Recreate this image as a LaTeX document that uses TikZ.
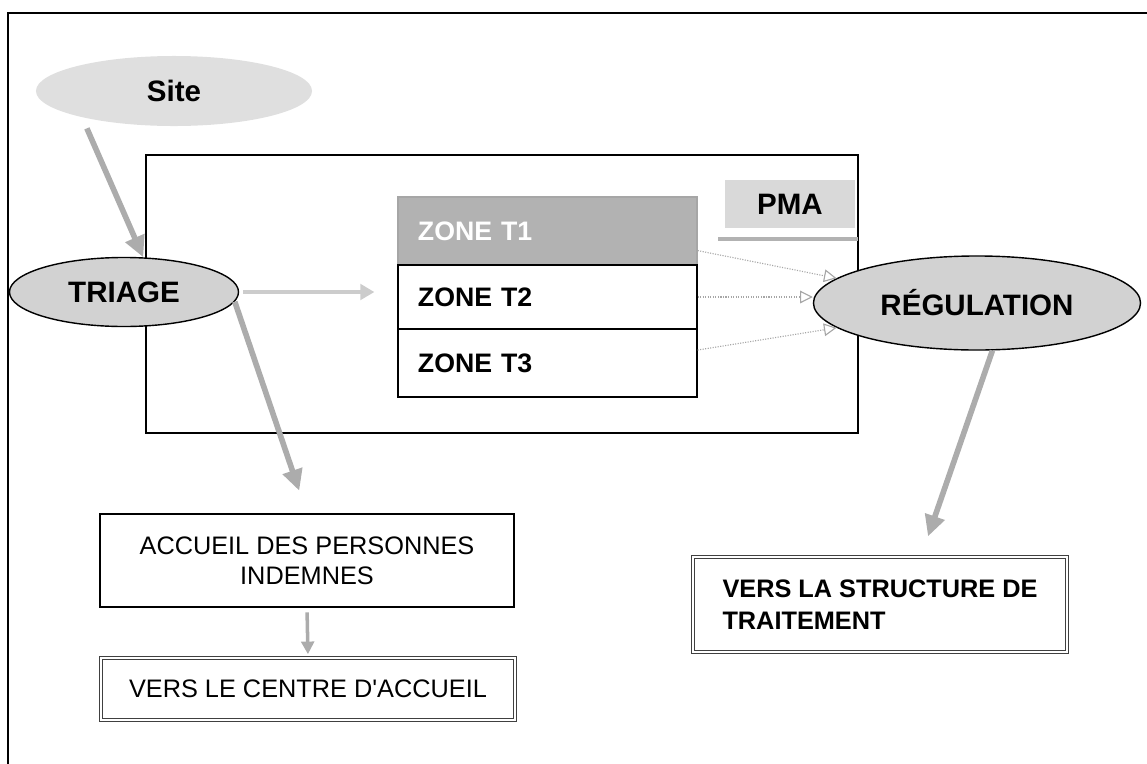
\documentclass[tikz,border=0pt]{standalone}
\usepackage{fontspec}
\setmainfont{Liberation Sans}
\usetikzlibrary{shapes.geometric, arrows.meta, calc, positioning}

\begin{document}
\begin{tikzpicture}[x=0.025cm, y=-0.025cm,
  oval/.style={ellipse, inner sep=0pt, font=\fontsize{21}{25}\selectfont\bfseries},
  zone/.style={rectangle, draw, line width=0.8pt, minimum width=7.475cm, text width=6.475cm, inner xsep=0.5cm, align=left, font=\fontsize{19}{23}\selectfont\bfseries},
  box/.style={rectangle, draw, line width=0.8pt, fill=white, font=\fontsize{18}{21.5}\selectfont},
  dbox/.style={box, draw=black!75, double=white, double distance=1.5pt},
  bigarrow/.style={draw=gray!65, line width=4pt, -{Triangle[length=15pt, width=14pt]}},
  smallarrow/.style={draw=gray!65, line width=2.5pt, -{Triangle[length=9pt, width=9pt]}},
  flatarrow/.style={draw=gray!40, line width=3pt, -{Triangle[length=10pt, width=11pt]}},
  dotarrow/.style={draw=gray!70, densely dotted, line width=0.8pt, -{Triangle[open, length=9pt, width=9pt]}}]
\useasboundingbox (0,0) rectangle (1147,764);
\draw[line width=1.5pt] (8,764) -- (8,13) -- (1147,13);
\draw[line width=1.2pt] (146,155) rectangle (858,433);

\node[oval, fill=gray!25, minimum width=6.9cm, minimum height=1.75cm] (site) at (174,91) {Site};
\node[oval, draw, line width=1pt, fill=gray!35, minimum width=5.725cm, minimum height=1.725cm] (triage) at (124,292) {TRIAGE};
\node[oval, draw, line width=1pt, fill=gray!35, minimum width=8.175cm, minimum height=2.35cm] (regul) at (977,303) {RÉGULATION};
\node[rectangle, fill=gray!30, minimum width=3.25cm, minimum height=1.2cm, font=\fontsize{21}{25}\selectfont\bfseries] (pma) at (790,204) {PMA};
\draw[gray!60, line width=2.5pt] (718,239) -- (858,239);

\node[zone, draw=gray!70, fill=gray!60, text=white, minimum height=1.7cm] (zoneA) at (547.5,231) {ZONE T1};
\node[zone, minimum height=1.6cm] (zoneB) at (547.5,297) {ZONE T2};
\node[zone, minimum height=1.7cm] (zoneC) at (547.5,363) {ZONE T3};

\node[box, align=center, minimum width=10.35cm, minimum height=2.325cm] (accueil) at (307,560.5) {ACCUEIL DES PERSONNES\\INDEMNES};
\node[dbox, minimum width=10.35cm, minimum height=1.55cm] (centre) at (308,689) {VERS LE CENTRE D\textquotesingle ACCUEIL};
\node[dbox, align=left, font=\fontsize{18}{22.5}\selectfont\bfseries, minimum width=9.35cm, minimum height=2.375cm] (structure) at (880,604.5) {VERS LA STRUCTURE DE\\TRAITEMENT};

\draw[bigarrow, shorten <=0.3cm] (site.196) -- (triage.61);
\draw[flatarrow, shorten <=0.1cm] (triage.east) -- ($(triage.east -| zoneB.west)+(-23,0)$);
\draw[bigarrow, shorten >=0.6cm] (triage.-5) -- (accueil.north);
\draw[smallarrow, shorten <=0.12cm, shorten >=0.08cm] (accueil.south) -- (centre.north);
\draw[dotarrow] ($(zoneA.south east)+(0,-15)$) -- (regul.170);
\draw[dotarrow] (zoneB.east) -- (zoneB.east -| regul.west);
\draw[dotarrow] ($(zoneC.east)+(0,-13)$) -- (regul.190);
\draw[bigarrow] (regul.-72) -- ($(structure.north)+(48,-20)$);
\end{tikzpicture}
\end{document}
